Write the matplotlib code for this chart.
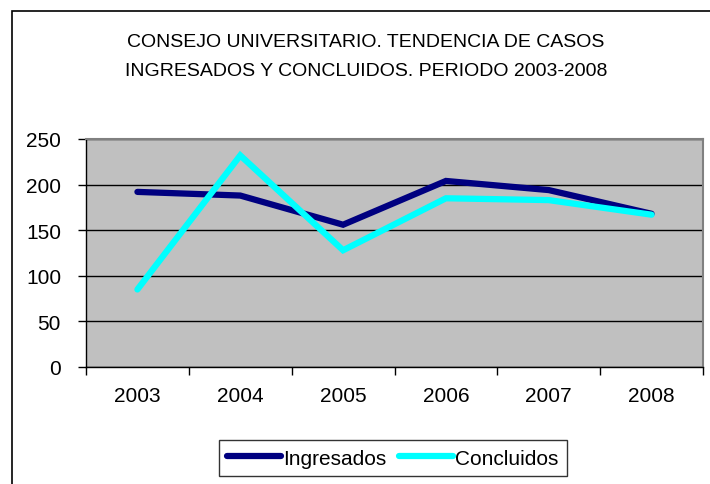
import matplotlib
matplotlib.use("Agg")
import matplotlib.pyplot as plt
from matplotlib.patches import Rectangle
from matplotlib.ticker import FixedLocator, NullFormatter

years = ["2003", "2004", "2005", "2006", "2007", "2008"]
ingresados = [192, 188, 156, 204, 194, 168]
concluidos = [85, 232, 128, 185, 183, 167]
yticks = [0, 50, 100, 150, 200, 250]
title = "CONSEJO UNIVERSITARIO. TENDENCIA DE CASOS\nINGRESADOS Y CONCLUIDOS. PERIODO 2003-2008"

plt.rcParams['font.family'] = ['Liberation Sans', 'DejaVu Sans']

fig = plt.figure(figsize=(7.1, 4.85), dpi=100)
fig.patch.set_facecolor('white')

# outer chart frame
fig.patches.append(Rectangle((12/710, -0.1), 1.2, (485-12)/485 + 0.1, transform=fig.transFigure,
                             fill=False, edgecolor='black', linewidth=1.2))

ax = fig.add_axes([86/710, (485-368)/485, (703-86)/710, (368-140)/485])
ax.set_facecolor('#C0C0C0')
x = list(range(len(years)))
ax.plot(x, ingresados, color='#000080', linewidth=4.5, solid_capstyle='round', solid_joinstyle='miter', label='Ingresados', zorder=3)
ax.plot(x, concluidos, color='#00FFFF', linewidth=4.5, solid_capstyle='round', solid_joinstyle='miter', label='Concluidos', zorder=3)

ax.set_xlim(-0.5, len(years) - 0.5)
ax.set_ylim(0, 250)
ax.set_yticks(yticks)
ax.set_yticklabels([str(v) for v in yticks], fontsize=15)
ax.yaxis.grid(True, color='black', linewidth=1)
ax.set_axisbelow(True)

ax.set_xticks(x)
ax.set_xticklabels(years, fontsize=15)
ax.tick_params(axis='x', which='major', length=0, pad=14)
ax.xaxis.set_minor_locator(FixedLocator([i - 0.5 for i in range(len(years) + 1)]))
ax.xaxis.set_minor_formatter(NullFormatter())
ax.tick_params(axis='x', which='minor', length=6, width=1, color='black', direction='out')
ax.tick_params(axis='y', length=6, width=1, color='black', direction='out', pad=12)

for s in ['top', 'right']:
    ax.spines[s].set_color('#808080')
    ax.spines[s].set_linewidth(1.5)
for s in ['left', 'bottom']:
    ax.spines[s].set_color('black')
    ax.spines[s].set_linewidth(1)

fig.text(366/710, 1 - 57/485, title, ha='center', va='center', fontsize=14, linespacing=1.85)

leg = fig.legend(loc='lower center', bbox_to_anchor=(393/710, -0.005), ncol=2, fontsize=15,
                 frameon=True, fancybox=False, edgecolor='black', handlelength=2.6,
                 handletextpad=0.1, columnspacing=0.6, borderpad=0.4)
leg.get_frame().set_linewidth(1)

fig.savefig("out.png", dpi=100)
